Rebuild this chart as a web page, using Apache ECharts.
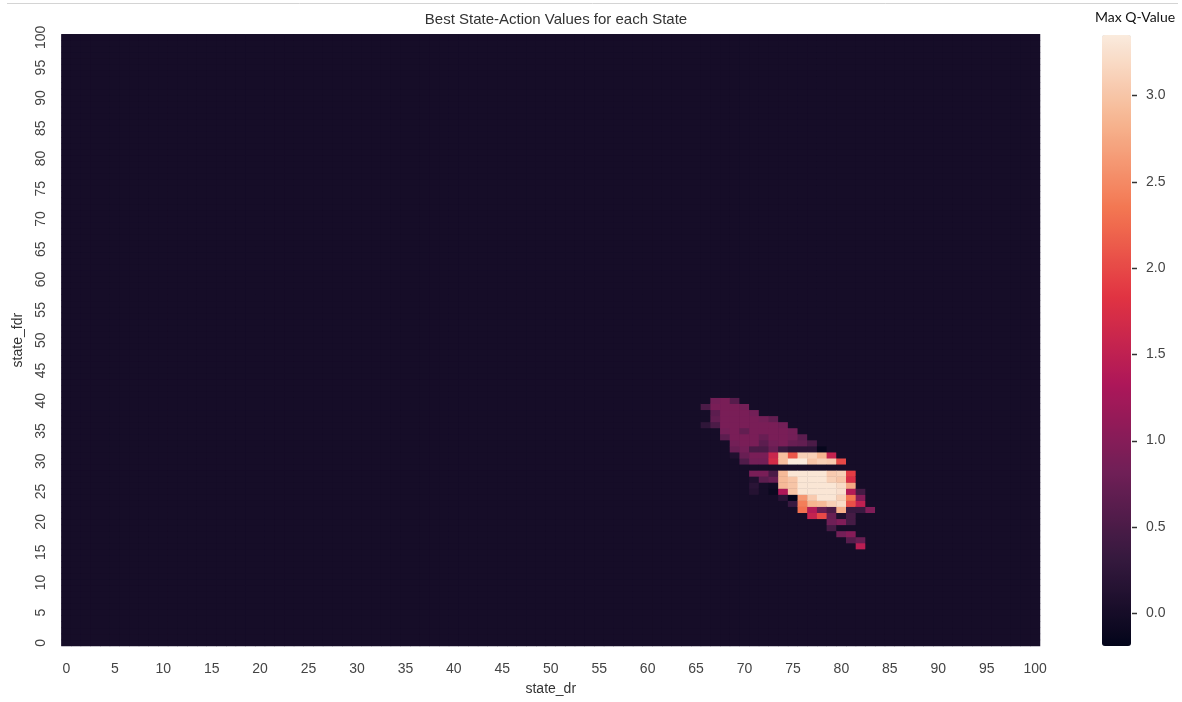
<!DOCTYPE html>
<html>
<head>
<meta charset="utf-8">
<script src="https://cdn.jsdelivr.net/npm/echarts@6/dist/echarts.min.js"></script>
<style>
html,body{margin:0;padding:0;background:#fff}
#chart{width:1182px;height:702px}
</style>
</head>
<body>
<div id="chart"></div>
<script>
// axis categories 0..100
const xCats = [];
const yCats = [];
for (let i = 0; i <= 100; i++) { xCats.push(String(i)); yCats.push(String(i)); }

const colorbarTicks = [0, 0.5, 1, 1.5, 2, 2.5, 3];
const valueMin = -0.19;
const valueMax = 3.35;

// non-zero region: rows from state_fdr 40 down to 16, columns state_dr 65..84
const blobFirstCol = 65;
const blobTopRow = 40;
const blobRows = [
	[0,0,0.85,0.9,0.6,0,0,0,0,0,0,0,0,0,0,0,0,0,0,0],          // 40
	[0,0.5,0.9,0.9,0.9,0.85,0,0,0,0,0,0,0,0,0,0,0,0,0,0],      // 39
	[0,0,0.65,0.9,0.9,0.9,0.85,0,0,0,0,0,0,0,0,0,0,0,0,0],     // 38
	[0,0,0.7,0.9,0.9,0.9,0.9,0.85,0.7,0,0,0,0,0,0,0,0,0,0,0],  // 37
	[0,0.25,0.5,0.9,0.9,0.9,0.9,0.9,0.9,0.85,0,0,0,0,0,0,0,0,0,0], // 36
	[0,0,0,0.85,0.9,0.7,0.9,0.9,0.9,0.9,0.85,0,0,0,0,0,0,0,0,0],   // 35
	[0,0,0,0.65,0.9,0.9,0.9,0.75,0.9,0.9,0.85,0.65,0,0,0,0,0,0,0,0], // 34
	[0,0,0,0,0.85,0.9,0.9,0.65,0.85,0.9,0.75,0.7,0.5,0,0,0,0,0,0,0], // 33
	[0,0,0,0,0.75,0.85,0.5,0.5,0.75,0.35,0.2,0.2,0.2,-0.15,0,0,0,0,0,0], // 32
	[0,0,0,0,0.1,0.75,0.9,0.9,1.6,2.95,2.1,3.1,3.1,2.85,1.55,0,0,0,0,0], // 31
	[0,0,0,0,0,0.55,0.85,0.85,1.7,2.95,3.35,3.35,3.0,3.1,3.05,2.0,0,0,0,0], // 30
	[0,0,0,0,0,0,0,0,0,0,0,0,0,0,0,0,0,0,0,0],                 // 29
	[0,0,0,0,0,0,0.9,0.9,0.5,2.9,3.3,3.3,3.3,3.3,3.05,3.1,1.9,0,0,0],   // 28
	[0,0,0,0,0,0,0.1,0.65,0.75,2.9,3.0,3.3,3.3,3.3,3.1,3.0,1.75,0,0,0], // 27
	[0,0,0,0,0,0,0.2,0,-0.05,2.9,3.0,3.3,3.3,3.3,3.3,3.2,2.75,0,0,0],   // 26
	[0,0,0,0,0,0,0.15,0,-0.1,1.35,3.0,3.3,3.3,3.3,3.3,3.25,1.4,0.45,0,0], // 25
	[0,0,0,0,0,0,0,0,0,0.2,-0.18,2.6,3.05,3.3,3.3,3.1,2.35,1.0,0,0],   // 24
	[0,0,0,0,0,0,0,0,0,0,0.35,2.4,2.85,2.9,3.1,3.2,2.05,1.5,0,0],      // 23
	[0,0,0,0,0,0,0,0,0,0,0,2.3,1.4,0.75,0.5,2.8,0.35,0.35,0.95,0],     // 22
	[0,0,0,0,0,0,0,0,0,0,0,0,1.55,2.0,0.75,0.1,0.45,0,0,0],            // 21
	[0,0,0,0,0,0,0,0,0,0,0,0,0,0,0.8,0.95,0.45,0,0,0],                 // 20
	[0,0,0,0,0,0,0,0,0,0,0,0,0,0,0.45,0,0,0,0,0],                      // 19
	[0,0,0,0,0,0,0,0,0,0,0,0,0,0,0,0.85,1.0,0,0,0],                    // 18
	[0,0,0,0,0,0,0,0,0,0,0,0,0,0,0,0,0.6,0.75,0,0],                    // 17
	[0,0,0,0,0,0,0,0,0,0,0,0,0,0,0,0,0,1.45,0,0]                       // 16
];

const rocket = ['#03051a','#35193e','#701f57','#ad1759','#e13342','#f37651','#f6b48f','#faebdd'];

function buildData() {
	const grid = {};
	blobRows.forEach((row, r) => {
		row.forEach((v, c) => { grid[(blobFirstCol + c) + '_' + (blobTopRow - r)] = v; });
	});
	const out = [];
	for (let x = 0; x <= 100; x++) {
		for (let y = 0; y <= 100; y++) {
			const k = x + '_' + y;
			out.push([x, y, grid[k] !== undefined ? grid[k] : 0]);
		}
	}
	return out;
}

// colour that the scale gives to a value (used to fill seams between cells)
function scaleColor(v) {
	const f = (v - valueMin) / (valueMax - valueMin) * (rocket.length - 1);
	const i = Math.min(Math.floor(f), rocket.length - 2);
	const t = f - i;
	const a = rocket[i], b = rocket[i + 1];
	const ch = (s, o) => parseInt(s.substr(o, 2), 16);
	const mix = o => Math.round(ch(a, o) + (ch(b, o) - ch(a, o)) * t);
	return 'rgb(' + mix(1) + ',' + mix(3) + ',' + mix(5) + ')';
}

const font = "'Liberation Sans', Arial, sans-serif";
const chart = echarts.init(document.getElementById('chart'));
chart.setOption({
	animation: false,
	backgroundColor: '#fff',
	textStyle: { fontFamily: font },
	title: {
		text: 'Best State-Action Values for each State',
		left: 551, top: 7, textAlign: 'center',
		textStyle: { fontFamily: font, fontSize: 15, fontWeight: 'normal', color: '#333' }
	},
	grid: [
		{ left: 61.5, right: 142, top: 34.3, bottom: 56, show: true, backgroundColor: scaleColor(0), borderWidth: 0 },
		{ left: 1102, top: 35, width: 29, height: 611 }
	],
	xAxis: [
		{
			type: 'category', data: xCats, gridIndex: 0,
			name: 'state_dr', nameLocation: 'middle', nameGap: 36,
			nameTextStyle: { fontSize: 14, color: '#333' },
			axisLine: { show: false }, axisTick: { show: false }, splitLine: { show: false },
			axisLabel: { interval: 4, fontSize: 14, color: '#444', margin: 16 }
		},
		{ type: 'value', gridIndex: 1, show: false }
	],
	yAxis: [
		{
			type: 'category', data: yCats, gridIndex: 0,
			name: 'state_fdr', nameLocation: 'middle', nameGap: 36, nameRotate: 90,
			nameTextStyle: { fontSize: 14, color: '#333' },
			axisLine: { show: false }, axisTick: { show: false }, splitLine: { show: false },
			axisLabel: { interval: 4, fontSize: 14, color: '#444', rotate: 90, margin: 20, verticalAlign: 'middle' }
		},
		{
			type: 'value', gridIndex: 1, position: 'right', min: valueMin, max: valueMax,
			axisLine: { show: false }, splitLine: { show: false }, axisTick: { show: false },
			axisLabel: { fontSize: 14, color: '#444', margin: 15, customValues: colorbarTicks,
				formatter: v => Number(v).toFixed(1) }
		}
	],
	visualMap: {
		type: 'continuous', seriesIndex: 0,
		min: valueMin, max: valueMax,
		left: 1102, top: 35, itemWidth: 29, itemHeight: 611,
		padding: 0, text: null, calculable: false, hoverLink: false,
		showLabel: false,
		inRange: { color: rocket }
	},
	series: [
		{
			type: 'heatmap', xAxisIndex: 0, yAxisIndex: 0,
			data: buildData(), progressive: 0,
			emphasis: { disabled: true }
		},
		{ type: 'scatter', xAxisIndex: 1, yAxisIndex: 1, data: [], silent: true }
	]
});

// colorbar tick marks and extra text
const tickMarks = colorbarTicks.map(v => {
	const y = Math.round(chart.convertToPixel({ yAxisIndex: 1 }, v)) + 0.5;
	return { type: 'line', shape: { x1: 1132, y1: y, x2: 1137, y2: y }, style: { stroke: '#333', lineWidth: 1.5 } };
});
chart.setOption({
	graphic: [
		{ type: 'line', shape: { x1: 7, y1: 3.5, x2: 1178, y2: 3.5 }, style: { stroke: '#d4d4d4', lineWidth: 1 } },
		{ type: 'text', x: 1135, y: 10, style: { text: 'Max Q-Value', align: 'center', fontFamily: "Lato, 'Open Sans', sans-serif", fontSize: 14, fill: '#111' } }
	].concat(tickMarks)
});
</script>
</body>
</html>
